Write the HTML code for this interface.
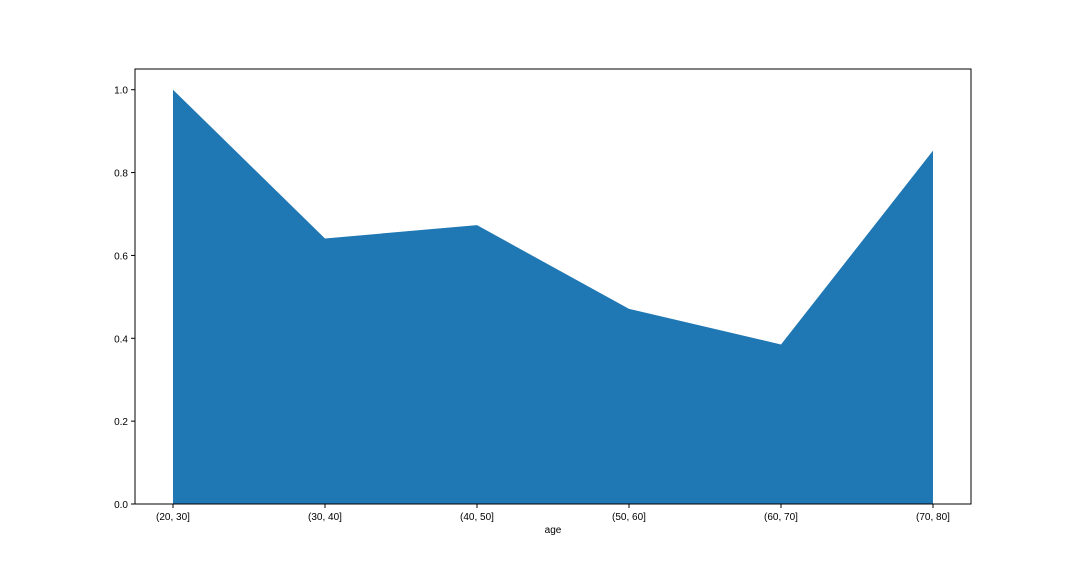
<!DOCTYPE html>
<html><head><meta charset="utf-8"><style>
html,body{margin:0;padding:0;background:#fff;}
svg{display:block;font-family:"Liberation Sans","DejaVu Sans",sans-serif;}
</style></head><body>
<svg id="chart" width="1080" height="576" viewBox="0 0 1080 576"></svg>
<script>
const categories = ["(20, 30]","(30, 40]","(40, 50]","(50, 60]","(60, 70]","(70, 80]"];
const values = [1.0, 0.641, 0.673, 0.471, 0.385, 0.853];
const yTicks = [0.0, 0.2, 0.4, 0.6, 0.8, 1.0];
const xLabel = "age";

const L=135,R=971,T=69,B=504;
const yMax=1.05;
const xs=i=>L+(i+0.25)*(R-L)/(categories.length-1+0.5);
const ys=v=>B-v*(B-T)/yMax;
const NS="http://www.w3.org/2000/svg";
const svg=document.getElementById('chart');
function mk(tag,attrs,parent){const e=document.createElementNS(NS,tag);for(const k in attrs)e.setAttribute(k,attrs[k]);(parent||svg).appendChild(e);return e;}

let d=`M${xs(0)},${ys(0)}`;
values.forEach((v,i)=>{d+=` L${xs(i)},${ys(v)}`;});
d+=` L${xs(values.length-1)},${ys(0)} Z`;
const area=mk('path',{d:d,fill:'#1f77b4'});



const frame=mk('rect',{x:L,y:T,width:R-L,height:B-T,fill:'none',stroke:'#000','stroke-width':1});



yTicks.forEach(t=>{
  const y=ys(t);
  const tk=mk('line',{x1:L-4,x2:L,y1:y,y2:y,stroke:'#000'});
  
  
  const tx=mk('text',{x:L-7,y:y+4,'text-anchor':'end','font-size':10});
  tx.textContent=t.toFixed(1);
  
  
});
categories.forEach((c,i)=>{
  const x=xs(i);
  const tk=mk('line',{x1:x,x2:x,y1:B,y2:B+4,stroke:'#000'});
  
  
  const tx=mk('text',{x:x,y:B+16,'text-anchor':'middle','font-size':10});
  tx.textContent=c;
  
  
});
const xl=mk('text',{x:(L+R)/2,y:B+29,'text-anchor':'middle','font-size':10});
xl.textContent=xLabel;


</script>
</body></html>
